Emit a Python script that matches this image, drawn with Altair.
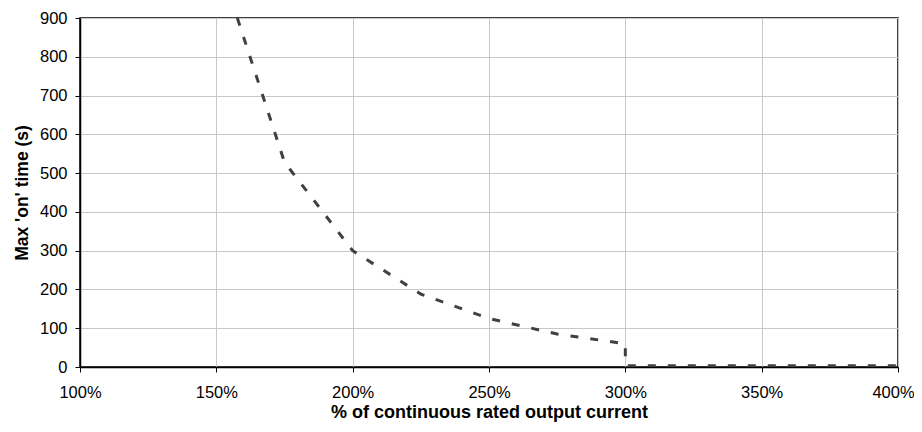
import altair as alt
import pandas as pd

current_pct = [157.7, 175, 200, 225, 250, 275, 300, 300, 400]
max_on_time = [900, 528, 300, 188, 125, 85, 60, 3, 3]
order = list(range(len(current_pct)))

df = pd.DataFrame({"x": current_pct, "y": max_on_time, "o": order})

font = "Liberation Sans"

chart = alt.Chart(df).mark_line(
    color="#404040", strokeWidth=3, strokeDash=[8, 12], clip=True
).encode(
    x=alt.X("x:Q", scale=alt.Scale(domain=[100, 400], nice=False, zero=False),
            axis=alt.Axis(values=[100, 150, 200, 250, 300, 350, 400],
                          labelExpr="datum.value + '%'",
                          labelFlush=False, labelOverlap=False,
                          labelPadding=12,
                          labelOffset=alt.ExprRef(expr="datum.value >= 400 ? -5 : 0"),
                          title="% of continuous rated output current",
                          titlePadding=3, titleFontSize=18)),
    y=alt.Y("y:Q", scale=alt.Scale(domain=[0, 900], nice=False),
            axis=alt.Axis(values=list(range(0, 1000, 100)),
                          labelFlush=False, labelOverlap=False,
                          labelPadding=8,
                          title="Max 'on' time (s)", titlePadding=8,
                          titleFontSize=17.5)),
    order="o:O",
).properties(
    width=818, height=349,
    autosize=alt.AutoSizeParams(type="none"),
    padding={"left": 72, "top": 10, "right": 16, "bottom": 62},
).configure_view(
    stroke="black", strokeWidth=1.5
).configure_axis(
    labelFont=font, titleFont=font, labelFontSize=16.5,
    labelColor="black", titleColor="black", titleFontWeight="bold",
    domainColor="black", domainWidth=1.5, tickColor="black", tickSize=5,
    gridColor="#c8c8c8", gridWidth=1,
)

chart.save("out.html", embed_options={"renderer": "svg", "actions": False})
